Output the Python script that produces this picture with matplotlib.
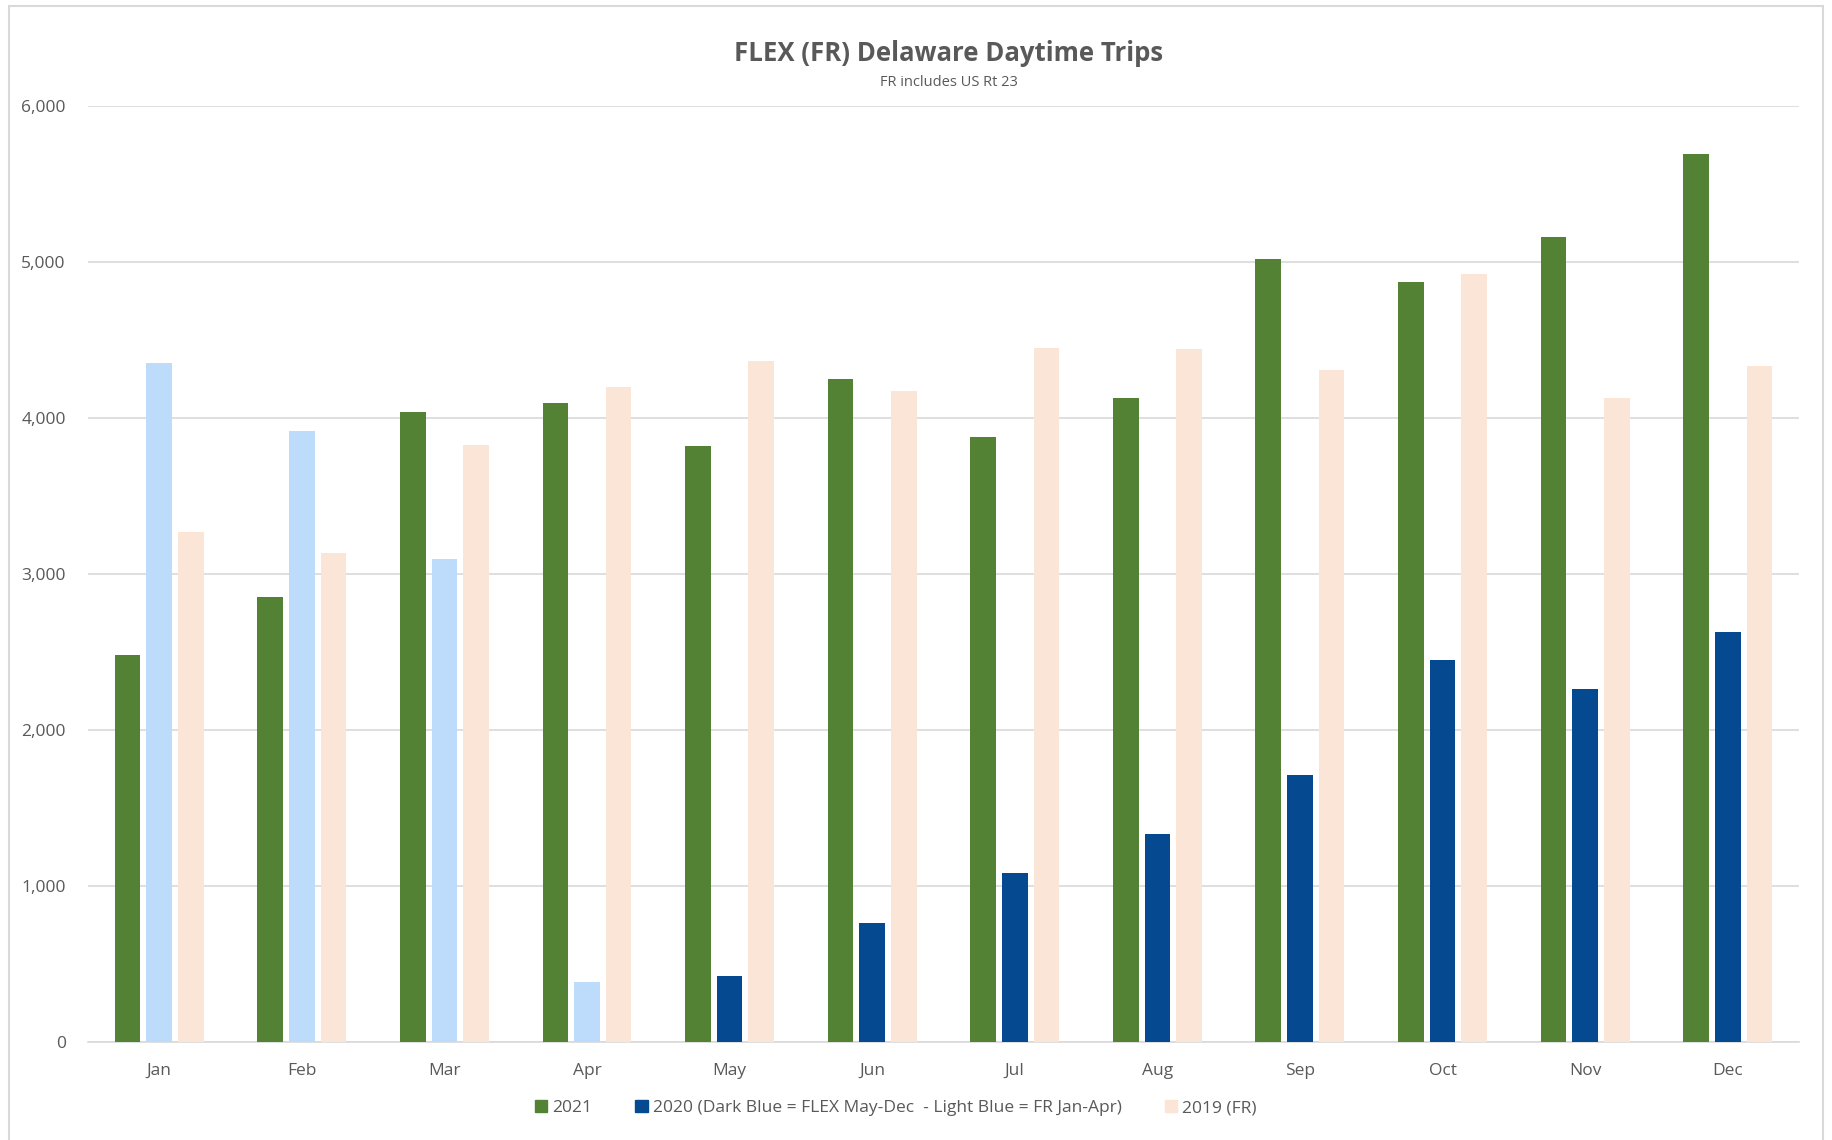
import matplotlib
matplotlib.use("Agg")
import matplotlib.pyplot as plt
import numpy as np
from matplotlib.patches import Rectangle, Patch
from matplotlib.ticker import FuncFormatter

months = ["Jan", "Feb", "Mar", "Apr", "May", "Jun", "Jul", "Aug", "Sep", "Oct", "Nov", "Dec"]
y2021 = [2480, 2855, 4040, 4095, 3820, 4250, 3875, 4130, 5020, 4870, 5160, 5695]
y2020 = [4355, 3915, 3095, 385, 420, 765, 1080, 1335, 1710, 2450, 2260, 2625]
y2019 = [3270, 3135, 3830, 4200, 4365, 4170, 4450, 4440, 4305, 4925, 4130, 4335]
light_months = ["Jan", "Feb", "Mar", "Apr"]

labels = ["2021", "2020 (Dark Blue = FLEX May-Dec  - Light Blue = FR Jan-Apr)", "2019 (FR)"]
c2021 = "#548235"
c2020_dark = "#054A91"
c2020_light = "#BDDBFA"
c2019 = "#FBE5D6"
text_col = "#595959"

plt.rcParams['font.family'] = ['Open Sans', 'DejaVu Sans']

fig = plt.figure(figsize=(18.32, 11.4), dpi=100)
fig.patches.append(Rectangle((0.005, -0.01), 0.99, 1.005, transform=fig.transFigure,
                             fill=False, edgecolor="#D9D9D9", linewidth=1.5))
ax = fig.add_axes([0.048, 0.086, 0.934, 0.821])

x = np.arange(len(months))
w = 0.18
off = 0.222
cols2020 = [c2020_light if m in light_months else c2020_dark for m in months]
ax.bar(x - off, y2021, w, color=c2021, zorder=3)
ax.bar(x, y2020, w, color=cols2020, zorder=3)
ax.bar(x + off, y2019, w, color=c2019, zorder=3)

ax.set_xlim(-0.5, 11.5)
ax.set_ylim(0, 6000)
ax.set_yticks(np.arange(0, 6001, 1000))
ax.yaxis.set_major_formatter(FuncFormatter(lambda v, p: f"{int(v):,}"))
ax.set_xticks(x)
ax.set_xticklabels(months)
ax.tick_params(axis='both', length=0, labelsize=12.5, colors=text_col)
ax.tick_params(axis='x', pad=15)
ax.tick_params(axis='y', pad=16)
ax.grid(axis='y', color="#D9D9D9", linewidth=1.2, zorder=0)
for s in ["top", "right", "left"]:
    ax.spines[s].set_visible(False)
ax.spines["bottom"].set_color("#D9D9D9")
ax.spines["bottom"].set_linewidth(1.2)

fig.text(0.518, 0.953, "FLEX (FR) Delaware Daytime Trips", ha="center", va="center",
         fontsize=18.5, fontweight="bold", color=text_col)
fig.text(0.518, 0.928, "FR includes US Rt 23", ha="center", va="center",
         fontsize=10.5, color=text_col)

handles = [Patch(color=c2021), Patch(color=c2020_dark), Patch(color=c2019)]
fig.legend(handles, labels, loc="center", bbox_to_anchor=(0.489, 0.028), ncol=3,
           frameon=False, fontsize=12.5, labelcolor=text_col, handlelength=0.7,
           handleheight=0.7, handletextpad=0.3, columnspacing=2.5)

fig.savefig("out.png", dpi=100)
